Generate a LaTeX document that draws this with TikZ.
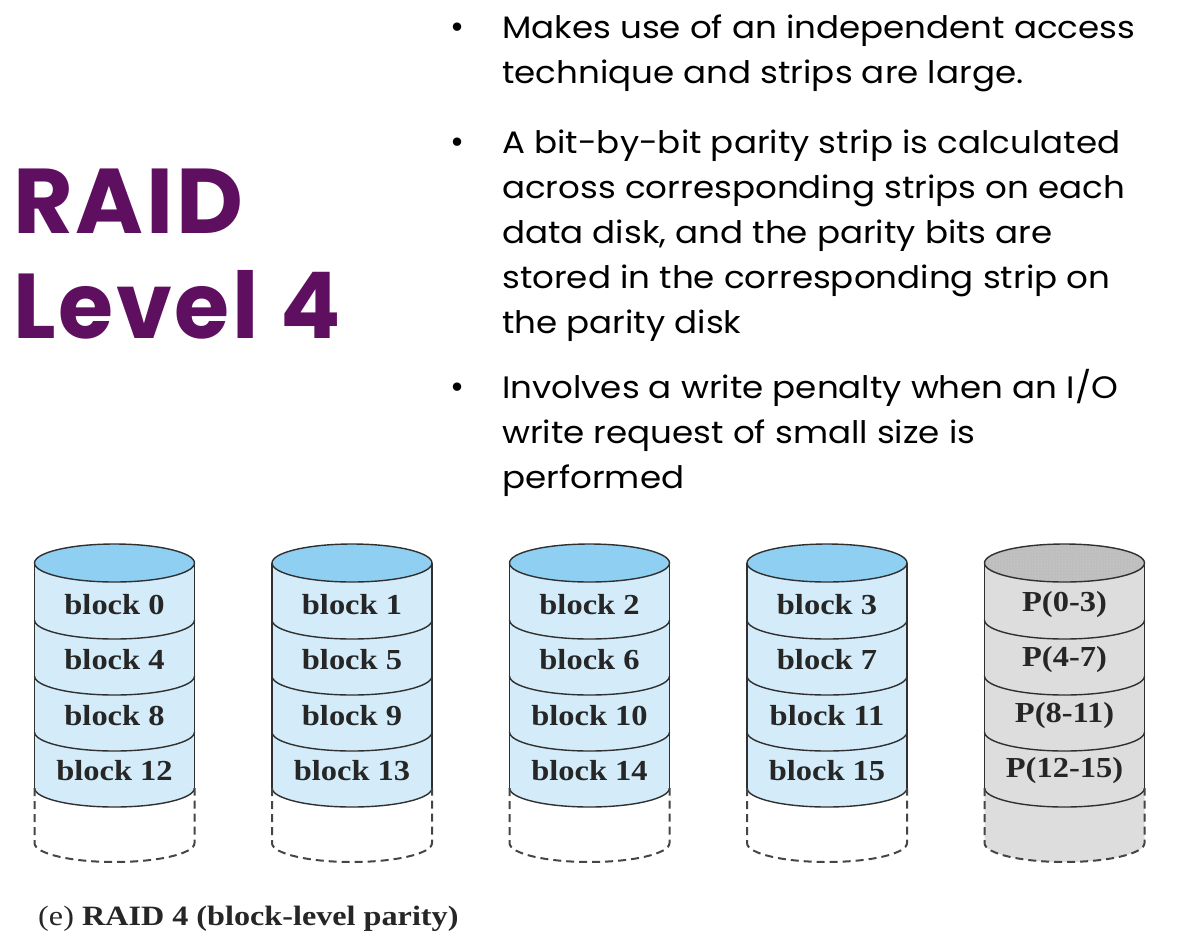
\documentclass[tikz,border=0pt]{standalone}
\usepackage{fontspec}
\setmainfont{Liberation Serif}
\newfontfamily\bodyfont{Poppins}
\newfontfamily\titlefont[LetterSpace=3]{Poppins}
\usetikzlibrary{patterns}
\definecolor{titlepurple}{HTML}{5E0F60}
\definecolor{topblue}{HTML}{8FD0F2}
\definecolor{bodyblue}{HTML}{D4ECF9}
\definecolor{topgrey}{HTML}{BEBEBE}
\definecolor{bodygrey}{HTML}{DDDDDD}
\definecolor{edge}{HTML}{303030}
\tikzset{
  line/.style={anchor=base west, inner sep=0pt, xscale=1.1, font=\bodyfont\fontsize{31}{35}\selectfont},
  bul/.style={anchor=base, inner sep=0pt, font=\bodyfont\fontsize{34}{35}\selectfont},
  ttl/.style={anchor=base west, inner sep=0pt, text=titlepurple, font=\titlefont\bfseries\fontsize{92}{100}\selectfont},
  blk/.style={inner sep=0pt, font=\bfseries\fontsize{29}{33}\selectfont, text=black!85},
  outl/.style={draw=edge, line width=1.4pt},
  dashl/.style={draw=edge!90, line width=2pt, dash pattern=on 8pt off 5pt},
}
\begin{document}
\begin{tikzpicture}[x=1pt,y=-1pt]
\useasboundingbox (0,0) rectangle (1182,948);
% title
\node (t1) [ttl] at (13,233) {RAID};
\node (t2) [ttl, xscale=0.97] at (13,338) {Level 4};
% bullets
\node (b1) [bul] at (457,38) {•};
\node (b2) [bul] at (457,153) {•};
\node (b3) [bul] at (457,398) {•};
\node (l1) [line] at (502,38) {Makes use of an independent access};
\node (l2) [line] at (502,83) {technique and strips are large.};
\node (l3) [line] at (502,153) {A bit-by-bit parity strip is calculated};
\node (l4) [line] at (502,198) {across corresponding strips on each};
\node (l5) [line] at (502,243) {data disk, and the parity bits are};
\node (l6) [line] at (502,288) {stored in the corresponding strip on};
\node (l7) [line] at (502,333) {the parity disk};
\node (l8) [line] at (502,398) {Involves a write penalty when an I/O};
\node (l9) [line] at (502,443) {write request of small size is};
\node (l10) [line] at (502,488) {performed};
% disks
\def\a{80}\def\ry{19}
\foreach \cx/\la/\lb/\lc/\ld/\tp/\bd [count=\i] in {
  114.5/block 0/block 4/block 8/block 12/topblue/bodyblue,
  352/block 1/block 5/block 9/block 13/topblue/bodyblue,
  589.5/block 2/block 6/block 10/block 14/topblue/bodyblue,
  827/block 3/block 7/block 11/block 15/topblue/bodyblue,
  1064.5/P(0-3)/P(4-7)/P(8-11)/P(12-15)/topgrey/bodygrey}{
  \ifnum\i=5
    \fill[bodygrey] (\cx-\a,563) -- (\cx-\a,843) arc[start angle=180,end angle=0,x radius=\a,y radius=\ry] -- (\cx+\a,563) -- cycle;
  \else
    \fill[\bd] (\cx-\a,563) -- (\cx-\a,788) arc[start angle=180,end angle=0,x radius=\a,y radius=\ry] -- (\cx+\a,563) -- cycle;
  \fi
  \filldraw[fill=\tp, outl] (\cx,563) ellipse[x radius=\a, y radius=\ry];
  \ifnum\i=5
    \fill[pattern=dots, pattern color=white!90!black, opacity=0.6] (\cx,563) ellipse[x radius=\a-3, y radius=\ry-2];
  \fi
  \foreach \yy in {620,676,732,788}{
    \draw[outl] (\cx-\a,\yy) arc[start angle=180,end angle=0,x radius=\a,y radius=\ry];
  }
  \draw[outl] (\cx-\a,563) -- (\cx-\a,788);
  \draw[outl] (\cx+\a,563) -- (\cx+\a,788);
  \draw[dashl] (\cx-\a,788) -- (\cx-\a,843) arc[start angle=180,end angle=0,x radius=\a,y radius=\ry] -- (\cx+\a,788);
  \node (d\i a) [blk, xscale=1.12] at (\cx,605) {\la};
  \node (d\i b) [blk, xscale=1.12] at (\cx,660) {\lb};
  \node (d\i c) [blk, xscale=1.12] at (\cx,716) {\lc};
  \node (d\i d) [blk, xscale=1.12] at (\cx,771) {\ld};
}
% caption
\node (cap) [anchor=base west, inner sep=0pt, font=\fontsize{28}{30}\selectfont, text=black!85, xscale=1.15] at (38,925) {(e) \textbf{RAID 4 (block-level parity)}};
\end{tikzpicture}
\end{document}
